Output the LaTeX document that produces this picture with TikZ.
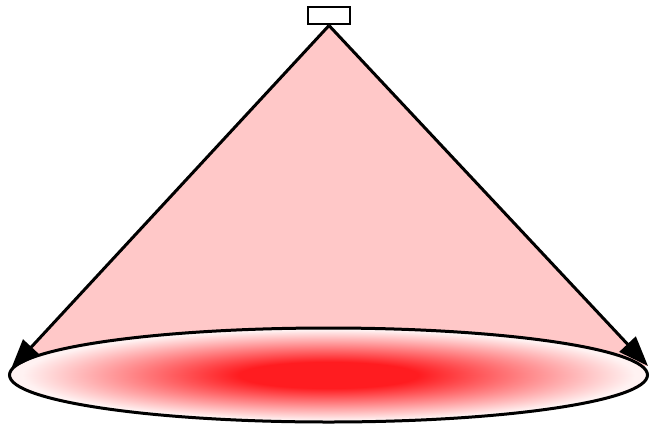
\documentclass[tikz,border=0pt]{standalone}
\usetikzlibrary{shapes.geometric,arrows.meta}
\definecolor{conepink}{RGB}{255,200,200}
\definecolor{spotred}{RGB}{255,28,32}
\definecolor{spotedge}{RGB}{255,242,242}
\pgfdeclareradialshading{spotshade}{\pgfpoint{0bp}{0bp}}{%
  color(0bp)=(spotred); color(7bp)=(spotred); color(24bp)=(spotedge); color(25bp)=(spotedge); color(50bp)=(spotedge)}
\tikzset{
  lampbox/.style={draw=black, line width=2pt, fill=white, minimum width=42pt, minimum height=17pt, inner sep=0pt},
  beam/.style={draw=black, line width=3pt, -{Triangle[length=30pt,width=22pt]}},
  spot/.style={ellipse, draw=black, line width=3pt, shading=spotshade, minimum width=638pt, minimum height=94pt, inner sep=0pt}
}
\begin{document}
\begin{tikzpicture}[x=1pt,y=-1pt]
\useasboundingbox (0,0) rectangle (650,426);
\node[lampbox] (lamp) at (329,15) {};
\coordinate (apex) at (329,25.5);
\coordinate (L) at (11,369);
\coordinate (R) at (648,366);
\fill[conepink] (apex) -- (L) -- (R) -- cycle;
\node[spot] (pool) at (328.5,375) {};
\draw[beam] (apex) -- (L);
\draw[beam] (apex) -- (R);
\end{tikzpicture}
\end{document}
